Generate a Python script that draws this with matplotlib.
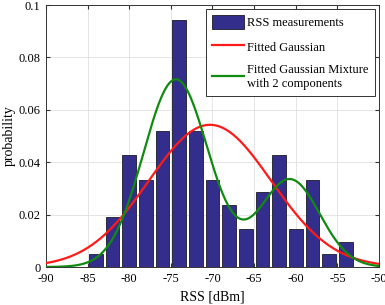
import numpy as np
import matplotlib
matplotlib.use("Agg")
import matplotlib.pyplot as plt
from matplotlib.lines import Line2D
from matplotlib.patches import Patch

plt.rcParams['font.family'] = ['Liberation Serif', 'DejaVu Serif']
plt.rcParams['mathtext.fontset'] = 'stix'

# Histogram (probability density) of RSS measurements
bin_centers = [-84, -82, -80, -78, -76, -74, -72, -70, -68, -66, -64, -62, -60, -58, -56, -54]
bin_density = [0.005, 0.019, 0.0426, 0.0333, 0.052, 0.0942, 0.052, 0.0333,
               0.0237, 0.0144, 0.0286, 0.0426, 0.0144, 0.0333, 0.005, 0.0097]

# Fitted single Gaussian parameters
gauss_mean = -70.3
gauss_std = 7.35

# Fitted 2-component Gaussian mixture parameters
mix_weights = [0.70, 0.30]
mix_means = [-74.4, -60.7]
mix_stds = [3.9, 3.58]

x_ticks = [-90, -85, -80, -75, -70, -65, -60, -55, -50]
y_ticks = [0, 0.02, 0.04, 0.06, 0.08, 0.1]
y_ticklabels = ['0', '0.02', '0.04', '0.06', '0.08', '0.1']


def npdf(x, m, s):
    return np.exp(-0.5 * ((x - m) / s) ** 2) / (s * np.sqrt(2 * np.pi))


fig = plt.figure(figsize=(3.85, 3.05), dpi=100)
ax = fig.add_axes([46 / 385, 1 - 267 / 305, (379 - 46) / 385, (267 - 5) / 305])

bar_color = '#332E8C'
ax.bar(bin_centers, bin_density, width=1.65, color=bar_color, edgecolor='#1a1a2a',
       linewidth=0.6, zorder=2)

xs = np.linspace(-90, -50, 400)
ax.plot(xs, npdf(xs, gauss_mean, gauss_std), color='#FF1A1A', lw=1.6, zorder=3)
mix = sum(w * npdf(xs, m, s) for w, m, s in zip(mix_weights, mix_means, mix_stds))
ax.plot(xs, mix, color='#118A11', lw=1.6, zorder=3)

ax.set_xlim(-90, -50)
ax.set_ylim(0, 0.1)
ax.set_xticks(x_ticks)
ax.set_xticklabels([str(t) for t in x_ticks])
ax.set_yticks(y_ticks)
ax.set_yticklabels(y_ticklabels)
ax.grid(True, color='#e0e0e0', lw=0.6, zorder=0)
ax.set_axisbelow(True)
ax.tick_params(direction='in', top=True, right=True, labelsize=9, length=3,
               color='#333333', pad=4)
for sp in ax.spines.values():
    sp.set_color('#333333')
    sp.set_linewidth(0.7)

ax.set_xlabel('RSS [dBm]', fontsize=10, labelpad=4)
ax.set_ylabel('probability', fontsize=10, labelpad=2)

handles = [Patch(facecolor=bar_color, edgecolor='#1a1a2a', lw=0.6),
           Line2D([], [], color='#FF1A1A', lw=1.6),
           Line2D([], [], color='#118A11', lw=1.6)]
labels = ['RSS measurements', 'Fitted Gaussian', 'Fitted Gaussian Mixture\nwith 2 components']
leg = ax.legend(handles, labels, loc='upper right', bbox_to_anchor=(0.988, 0.985),
                fontsize=9, frameon=True, fancybox=False, edgecolor='#333333',
                framealpha=1, borderpad=0.5, labelspacing=0.85, handlelength=2.55,
                handleheight=1.3, handletextpad=0.25, borderaxespad=0)
leg.get_frame().set_linewidth(0.7)

fig.savefig('out.png', dpi=100)
